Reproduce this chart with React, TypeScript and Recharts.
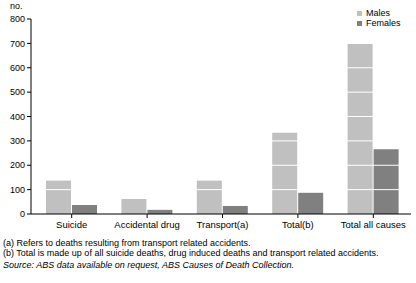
import React from "react";
import { BarChart, Bar, XAxis, YAxis, ReferenceLine } from "recharts";

const categories = ["Suicide", "Accidental drug", "Transport(a)", "Total(b)", "Total all causes"];
const males = [137, 62, 137, 333, 697];
const females = [37, 17, 33, 87, 266];
const yTicks = [0, 100, 200, 300, 400, 500, 600, 700, 800];
const gridLines = [100, 200, 300, 400, 500, 600, 700];
const footnotes = [
  "(a) Refers to deaths resulting from transport related accidents.",
  "(b) Total is made up of all suicide deaths, drug induced deaths and transport related accidents.",
];
const source = "Source: ABS data available on request, ABS Causes of Death Collection.";

const data = categories.map((c, i) => ({ name: c, Males: males[i], Females: females[i] }));

const FONT = "'Liberation Sans', Arial, sans-serif";
const MALE_COLOR = "#c0c0c0";
const FEMALE_COLOR = "#808080";

const legendItems: [string, string][] = [
  ["Males", MALE_COLOR],
  ["Females", FEMALE_COLOR],
];

export default function App() {
  return (
    <div style={{ position: "absolute", left: 0, top: 0, width: 416, height: 283, background: "#fff", fontFamily: FONT }}>
      <div style={{ position: "absolute", left: 10, top: 1, fontSize: 9, fontFamily: FONT }}>no.</div>
      <BarChart
        width={416}
        height={236}
        data={data}
        margin={{ top: 19, right: 5, left: 0, bottom: 0 }}
        barGap={1}
        barSize={25}
      >
        <XAxis
          dataKey="name"
          padding={{ left: 3, right: 0 }}
          tick={{ fontSize: 9.5, fill: "#000", fontFamily: FONT }}
          tickLine={{ stroke: "#000" }}
          axisLine={{ stroke: "#000" }}
          tickSize={4}
          tickMargin={3}
          height={22}
          interval={0}
        />
        <YAxis
          width={31}
          domain={[0, 800]}
          ticks={yTicks}
          tick={{ fontSize: 9, fill: "#000", fontFamily: FONT }}
          tickLine={{ stroke: "#000" }}
          axisLine={{ stroke: "#000" }}
          tickSize={4}
          interval={0}
        />
        <Bar dataKey="Males" fill={MALE_COLOR} isAnimationActive={false} />
        <Bar dataKey="Females" fill={FEMALE_COLOR} isAnimationActive={false} />
        {gridLines.map((v) => (
          <ReferenceLine key={v} y={v} stroke="#ffffff" strokeWidth={1} />
        ))}
      </BarChart>
      <div style={{ position: "absolute", left: 357, top: 8, fontFamily: FONT, fontSize: 9, color: "#000", lineHeight: "10px" }}>
        {legendItems.map(([label, color]) => (
          <div key={label} style={{ display: "flex", alignItems: "center" }}>
            <span style={{ display: "inline-block", width: 5, height: 5, background: color, marginRight: 4 }} />
            <span>{label}</span>
          </div>
        ))}
      </div>
      <div style={{ position: "absolute", left: 3, top: 238, fontSize: 9, lineHeight: "10px", fontFamily: FONT, whiteSpace: "nowrap" }}>
        {footnotes.map((f) => (
          <div key={f}>{f}</div>
        ))}
      </div>
      <div style={{ position: "absolute", left: 3, top: 260, fontSize: 9, lineHeight: "10px", fontStyle: "italic", fontFamily: FONT, whiteSpace: "nowrap" }}>
        {source}
      </div>
    </div>
  );
}
